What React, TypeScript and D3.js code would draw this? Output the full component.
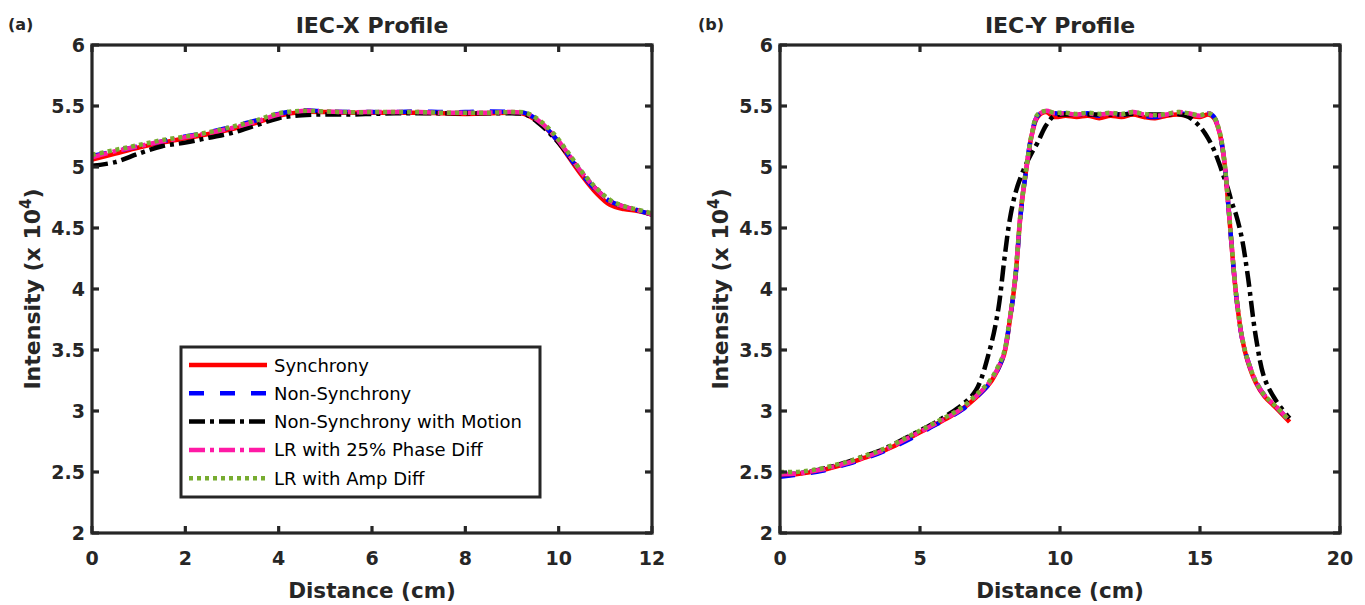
import React from "react";
import * as d3 from "d3";

// ---------- data ----------
const SERIES_NAMES = [
  "Synchrony",
  "Non-Synchrony",
  "Non-Synchrony with Motion",
  "LR with 25% Phase Diff",
  "LR with Amp Diff",
];

const Y_TICKS = [2, 2.5, 3, 3.5, 4, 4.5, 5, 5.5, 6];
const X_TICKS_A = [0, 2, 4, 6, 8, 10, 12];
const X_TICKS_B = [0, 5, 10, 15, 20];

// Panel (a) IEC-X profile
const xA = [0, 0.5, 1, 1.5, 2, 2.5, 3, 3.5, 4, 4.5, 5, 5.5, 6, 6.5, 7, 7.5, 8, 8.5, 9, 9.3, 9.6, 9.9, 10.2, 10.5, 10.8, 11.1, 11.4, 11.7, 12];
const syncA = [5.06, 5.11, 5.16, 5.2, 5.235, 5.27, 5.31, 5.36, 5.42, 5.45, 5.45, 5.445, 5.445, 5.445, 5.445, 5.44, 5.435, 5.44, 5.445, 5.43, 5.36, 5.25, 5.09, 4.93, 4.79, 4.69, 4.655, 4.64, 4.61];
const nonSyncA = [5.09, 5.13, 5.17, 5.21, 5.25, 5.285, 5.33, 5.38, 5.435, 5.465, 5.455, 5.45, 5.45, 5.45, 5.455, 5.45, 5.45, 5.455, 5.45, 5.44, 5.37, 5.25, 5.1, 4.94, 4.81, 4.72, 4.675, 4.645, 4.61];
const motionA = [5.01, 5.04, 5.11, 5.17, 5.2, 5.24, 5.28, 5.34, 5.4, 5.425, 5.43, 5.43, 5.435, 5.44, 5.44, 5.44, 5.44, 5.44, 5.44, 5.43, 5.35, 5.24, 5.1, 4.95, 4.82, 4.72, 4.675, 4.645, 4.61];
const phaseA = [5.08, 5.13, 5.17, 5.21, 5.245, 5.28, 5.32, 5.37, 5.43, 5.46, 5.455, 5.45, 5.45, 5.45, 5.45, 5.445, 5.445, 5.445, 5.45, 5.44, 5.37, 5.26, 5.11, 4.95, 4.82, 4.72, 4.675, 4.645, 4.61];
const ampA = [5.1, 5.14, 5.18, 5.22, 5.25, 5.285, 5.33, 5.38, 5.44, 5.46, 5.455, 5.45, 5.45, 5.45, 5.45, 5.445, 5.445, 5.445, 5.45, 5.445, 5.38, 5.27, 5.12, 4.96, 4.83, 4.73, 4.68, 4.65, 4.62];

// Panel (b) IEC-Y profile
const xB = [0, 0.5, 1, 1.5, 2, 2.5, 3, 3.5, 4, 4.5, 5, 5.5, 6, 6.5, 7, 7.5, 7.8, 8.0, 8.2, 8.4, 8.6, 8.8, 9.0, 9.2, 9.5, 9.8, 10.2, 10.6, 11, 11.4, 11.8, 12.2, 12.6, 13, 13.4, 13.8, 14.2, 14.6, 15, 15.3, 15.5, 15.7, 15.85, 16.0, 16.15, 16.3, 16.5, 16.7, 17.0, 17.3, 17.7, 18.2];
const syncB = [2.47, 2.48, 2.495, 2.515, 2.545, 2.575, 2.615, 2.655, 2.705, 2.765, 2.825, 2.885, 2.945, 3.015, 3.11, 3.23, 3.35, 3.46, 3.73, 4.08, 4.63, 4.99, 5.27, 5.41, 5.45, 5.41, 5.42, 5.41, 5.42, 5.4, 5.42, 5.41, 5.43, 5.41, 5.4, 5.42, 5.43, 5.42, 5.41, 5.43, 5.4, 5.28, 5.08, 4.72, 4.3, 3.93, 3.6, 3.41, 3.23, 3.12, 3.03, 2.91];
const nonSyncB = [2.46, 2.475, 2.49, 2.51, 2.54, 2.57, 2.61, 2.65, 2.7, 2.755, 2.815, 2.88, 2.94, 3.01, 3.11, 3.23, 3.35, 3.47, 3.73, 4.08, 4.62, 4.99, 5.28, 5.42, 5.46, 5.44, 5.44, 5.43, 5.44, 5.42, 5.44, 5.43, 5.44, 5.42, 5.41, 5.43, 5.44, 5.43, 5.42, 5.44, 5.41, 5.28, 5.08, 4.72, 4.3, 3.93, 3.6, 3.42, 3.24, 3.13, 3.04, 2.92];
const motionB = [2.48, 2.485, 2.5, 2.525, 2.555, 2.59, 2.63, 2.67, 2.72, 2.78, 2.84, 2.9, 2.97, 3.05, 3.17, 3.51, 3.84, 4.22, 4.56, 4.78, 4.92, 5.03, 5.12, 5.2, 5.34, 5.42, 5.43, 5.43, 5.43, 5.43, 5.43, 5.43, 5.435, 5.43, 5.43, 5.43, 5.435, 5.41, 5.33, 5.23, 5.14, 5.02, 4.92, 4.82, 4.7, 4.6, 4.41, 4.12, 3.6, 3.27, 3.09, 2.94];
const phaseB = [2.48, 2.485, 2.5, 2.52, 2.55, 2.58, 2.62, 2.66, 2.71, 2.77, 2.83, 2.89, 2.95, 3.02, 3.12, 3.24, 3.36, 3.47, 3.74, 4.09, 4.64, 4.99, 5.27, 5.42, 5.46, 5.44, 5.44, 5.43, 5.44, 5.43, 5.44, 5.43, 5.45, 5.43, 5.42, 5.43, 5.45, 5.44, 5.42, 5.44, 5.41, 5.28, 5.08, 4.72, 4.3, 3.93, 3.6, 3.42, 3.24, 3.13, 3.04, 2.92];
const ampB = [2.5, 2.5, 2.51, 2.53, 2.56, 2.59, 2.63, 2.67, 2.72, 2.78, 2.84, 2.9, 2.96, 3.03, 3.13, 3.25, 3.37, 3.48, 3.75, 4.1, 4.64, 5.0, 5.28, 5.43, 5.46, 5.445, 5.445, 5.435, 5.445, 5.435, 5.445, 5.435, 5.45, 5.435, 5.425, 5.435, 5.45, 5.44, 5.425, 5.44, 5.41, 5.29, 5.09, 4.73, 4.31, 3.94, 3.61, 3.42, 3.24, 3.13, 3.04, 2.92];

// ---------- styles ----------
const STYLES = [
  { color: "#ff0000", dash: "none" },
  { color: "#0000ff", dash: "15,16" },
  { color: "#000000", dash: "16,5,4,5" },
  { color: "#ff1aa5", dash: "16,5,4,5" },
  { color: "#77ac30", dash: "4,4" },
];

const FONT = "'DejaVu Sans', sans-serif";
const AX = "#262626";
const TOP = 45;
const BOTTOM = 533;
const LW = 4.5;

const PANELS = [
  {
    left: 92, right: 652, xMax: 12, xTicks: X_TICKS_A, title: "IEC-X Profile", tag: "(a)", tagX: 8,
    x: xA, series: [syncA, nonSyncA, motionA, phaseA, ampA], legend: true,
  },
  {
    left: 780, right: 1340, xMax: 20, xTicks: X_TICKS_B, title: "IEC-Y Profile", tag: "(b)", tagX: 698,
    x: xB, series: [syncB, nonSyncB, motionB, phaseB, ampB], legend: false,
  },
];

function Panel({ p }: { p: any }) {
  const xs = d3.scaleLinear().domain([0, p.xMax]).range([p.left, p.right]);
  const ys = d3.scaleLinear().domain([2, 6]).range([BOTTOM, TOP]);
  const line = d3
    .line<[number, number]>()
    .x((d) => xs(d[0]))
    .y((d) => ys(d[1]))
    .curve(d3.curveCatmullRom.alpha(0.5));
  const cx = (p.left + p.right) / 2;
  const cy = (TOP + BOTTOM) / 2;
  const tickLen = 7;
  const lgX = p.left + 89;
  const lgY = 347;
  const rowH = 28.3;

  return (
    <g>
      <text x={p.tagX} y={30} fontFamily={FONT} fontWeight="bold" fontSize={16} fill={AX}>
        {p.tag}
      </text>
      <text x={cx} y={33} textAnchor="middle" fontFamily={FONT} fontWeight="bold" fontSize={22} fill={AX}>
        {p.title}
      </text>

      {/* data lines */}
      <g>
        {p.series.map((vals: number[], i: number) => {
          const pts: [number, number][] = p.x.map((xv: number, k: number) => [xv, vals[k]]);
          return (
            <path
              key={i}
              d={line(pts) || ""}
              fill="none"
              stroke={STYLES[i].color}
              strokeWidth={LW}
              strokeDasharray={STYLES[i].dash}
              strokeLinejoin="round"
            />
          );
        })}
      </g>

      {/* axes box */}
      <rect x={p.left} y={TOP} width={p.right - p.left} height={BOTTOM - TOP} fill="none" stroke={AX} strokeWidth={3.2} />
      {p.xTicks.map((t: number) => (
        <g key={"xt" + t}>
          <line x1={xs(t)} x2={xs(t)} y1={BOTTOM} y2={BOTTOM - tickLen} stroke={AX} strokeWidth={3.2} />
          <line x1={xs(t)} x2={xs(t)} y1={TOP} y2={TOP + tickLen} stroke={AX} strokeWidth={3.2} />
          <text x={xs(t)} y={BOTTOM + 32} textAnchor="middle" fontFamily={FONT} fontWeight="bold" fontSize={19} fill={AX}>
            {String(t)}
          </text>
        </g>
      ))}
      {Y_TICKS.map((t) => (
        <g key={"yt" + t}>
          <line x1={p.left} x2={p.left + tickLen} y1={ys(t)} y2={ys(t)} stroke={AX} strokeWidth={3.2} />
          <line x1={p.right} x2={p.right - tickLen} y1={ys(t)} y2={ys(t)} stroke={AX} strokeWidth={3.2} />
          <text x={p.left - 7} y={ys(t) + 7} textAnchor="end" fontFamily={FONT} fontWeight="bold" fontSize={19} fill={AX}>
            {String(t)}
          </text>
        </g>
      ))}

      <text x={cx} y={598} textAnchor="middle" fontFamily={FONT} fontWeight="bold" fontSize={21.5} fill={AX}>
        Distance (cm)
      </text>
      <text
        transform={`translate(${p.left - 52},${cy}) rotate(-90)`}
        textAnchor="middle"
        fontFamily={FONT}
        fontWeight="bold"
        fontSize={22}
        fill={AX}
      >
        Intensity (x 10
        <tspan dy={-9} fontSize={15}>4</tspan>
        <tspan dy={9}>)</tspan>
      </text>

      {p.legend && (
        <g>
          <rect x={lgX} y={lgY} width={359} height={150} fill="#ffffff" stroke={AX} strokeWidth={3} />
          {SERIES_NAMES.map((name, i) => {
            const ry = lgY + 18 + i * rowH;
            return (
              <g key={name}>
                <line
                  x1={lgX + 8}
                  x2={lgX + 86}
                  y1={ry}
                  y2={ry}
                  stroke={STYLES[i].color}
                  strokeWidth={LW}
                  strokeDasharray={STYLES[i].dash}
                />
                <text x={lgX + 93} y={ry + 6.5} fontFamily={FONT} fontSize={18} fill="#000">
                  {name}
                </text>
              </g>
            );
          })}
        </g>
      )}
    </g>
  );
}

export default function App() {
  return (
    <svg
      width={1365}
      height={605}
      viewBox="0 0 1365 605"
      style={{ position: "absolute", left: 0, top: 0, background: "#fff" }}
    >
      <rect x={0} y={0} width={1365} height={605} fill="#ffffff" />
      {PANELS.map((p, i) => (
        <Panel key={i} p={p} />
      ))}
    </svg>
  );
}
